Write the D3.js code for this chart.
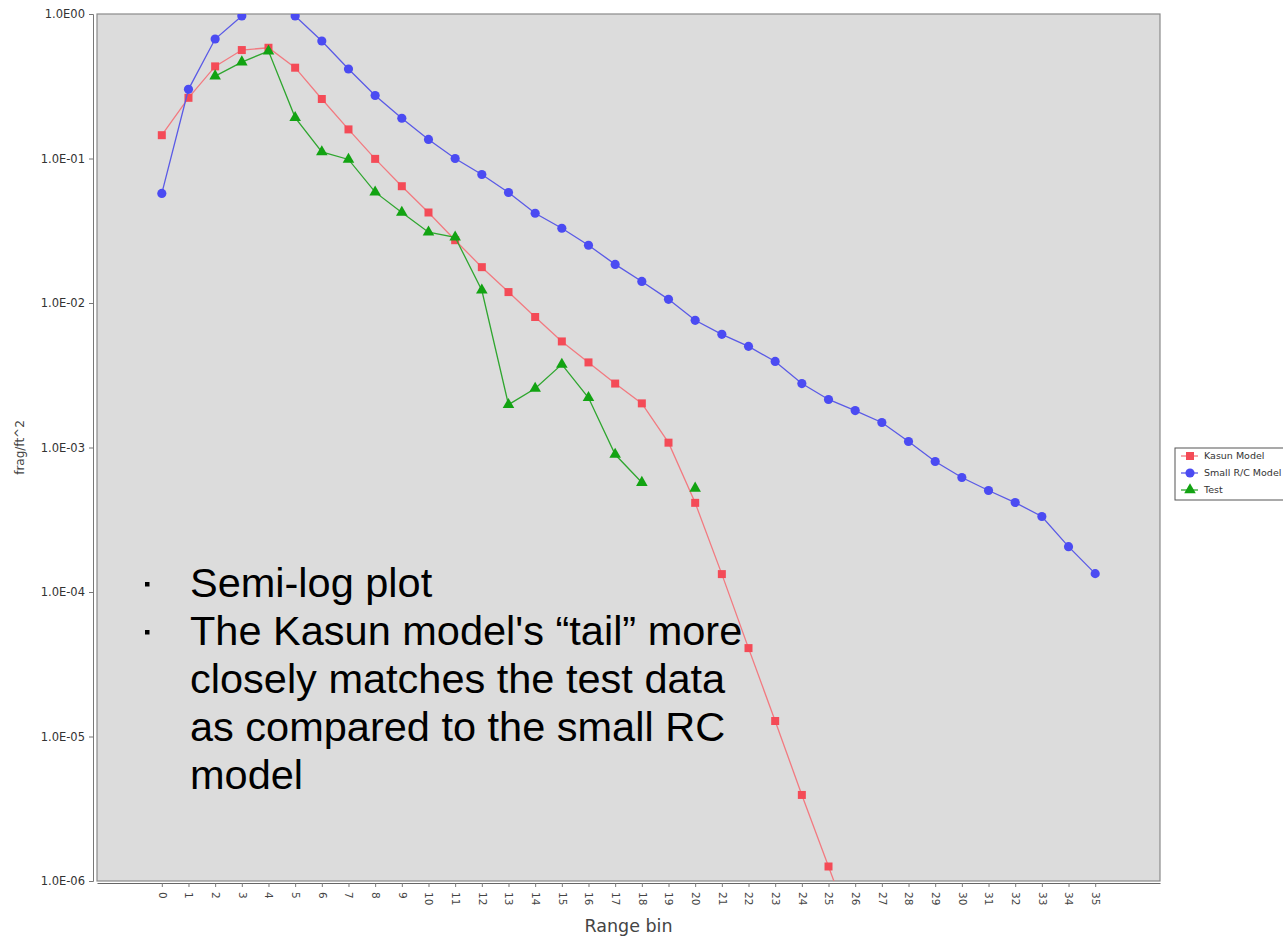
<!DOCTYPE html>
<html>
<head>
<meta charset="utf-8">
<script src="https://cdn.jsdelivr.net/npm/d3@7"></script>
<style>
	body { margin: 0; background: #fff; }
	svg { display: block; font-family: 'DejaVu Sans', sans-serif; }
</style>
</head>
<body>
<svg id="chart" width="1283" height="937"></svg>
<script>
// range bins 0..35
const bins = d3.range(0, 36)

// values (frag/ft^2), null = no point
const kasunModel = [0.145, 0.263, 0.434, 0.563, 0.584, 0.425, 0.258, 0.159, 0.0994, 0.0643,
	0.0423, 0.0272, 0.0177, 0.0119, 0.0080, 0.00542, 0.00388, 0.00277, 0.00202, 0.00108,
	0.000414, 0.000133, 4.09e-5, 1.28e-5, 3.94e-6, 1.26e-6, 4.0e-7]
const smallRCModel = [0.0573, 0.301, 0.671, 0.969, 1.35, 0.97, 0.650, 0.416, 0.273, 0.190,
	0.1355, 0.100, 0.0775, 0.0582, 0.0418, 0.0329, 0.0251, 0.0185, 0.0141, 0.0106,
	0.00759, 0.00607, 0.00501, 0.00394, 0.00277, 0.00215, 0.0018, 0.00149, 0.0011, 0.0008,
	0.00062, 0.000504, 0.000416, 0.000333, 0.000206, 0.000134]
const testData = [null, null, 0.372, 0.465, 0.554, 0.192, 0.111, 0.0985, 0.0585, 0.0423,
	0.0309, 0.0285, 0.01225, 0.00198, 0.00256, 0.00376, 0.00221, 0.000894, 0.000572, null,
	0.000522]

const yTicks = [1, 1e-1, 1e-2, 1e-3, 1e-4, 1e-5, 1e-6]
const yTickLabels = ['1.0E00', '1.0E-01', '1.0E-02', '1.0E-03', '1.0E-04', '1.0E-05', '1.0E-06']

const seriesNames = ['Kasun Model', 'Small R/C Model', 'Test']

const bullets = [
	['Semi-log plot'],
	['The Kasun model\'s \u201ctail\u201d more', 'closely matches the test data',
		'as compared to the small RC', 'model']
]

const series = [
	{ name: seriesNames[0], values: kasunModel, marker: 'square', fill: '#f44b57', line: '#f27a80' },
	{ name: seriesNames[1], values: smallRCModel, marker: 'circle', fill: '#4b4bf2', line: '#5a5ae6' },
	{ name: seriesNames[2], values: testData, marker: 'triangle', fill: '#12a312', line: '#2fa62f' }
]

const plot = { left: 97, right: 1160, top: 14, bottom: 881 }

const svg = d3.select('#chart')

const x = d3.scaleLinear()
	.domain([-2.43, 37.43])
	.range([plot.left, plot.right])

const y = d3.scaleLog()
	.domain([1, 1e-6])
	.range([plot.top, plot.bottom])

const symbolFor = (m) => {
	if (m === 'square') return d3.symbol().type(d3.symbolSquare).size(64)
	if (m === 'circle') return d3.symbol().type(d3.symbolCircle).size(66)
	return d3.symbol().type(d3.symbolTriangle).size(58)
}

svg.append('defs').append('clipPath')
	.attr('id', 'plot-clip')
	.append('rect')
	.attr('x', plot.left)
	.attr('y', plot.top)
	.attr('width', plot.right - plot.left)
	.attr('height', plot.bottom - plot.top)

// plot background
svg.append('rect')
	.attr('x', plot.left)
	.attr('y', plot.top)
	.attr('width', plot.right - plot.left)
	.attr('height', plot.bottom - plot.top)
	.attr('fill', '#dcdcdc')
	.attr('stroke', '#8a8a8a')
	.attr('stroke-width', 1.2)

// y axis
const yAxis = d3.axisLeft(y)
	.tickValues(yTicks)
	.tickFormat((d, i) => yTickLabels[i])
	.tickSize(4)
	.tickPadding(4)

svg.append('g')
	.attr('transform', `translate(${plot.left - 4},0)`)
	.call(yAxis)
	.call((g) => g.select('.domain').attr('stroke', '#777'))
	.call((g) => g.selectAll('.tick line').attr('stroke', '#777'))
	.call((g) => g.selectAll('.tick text')
		.attr('font-size', 11.5)
		.attr('font-family', 'DejaVu Sans, sans-serif')
		.attr('fill', '#333'))

// x axis
const xAxis = d3.axisBottom(x)
	.tickValues(bins)
	.tickFormat(d3.format('d'))
	.tickSize(4)
	.tickSizeOuter(0)

svg.append('g')
	.attr('transform', `translate(0,${plot.bottom + 2})`)
	.call(xAxis)
	.call((g) => g.select('.domain').attr('stroke', '#666'))
	.call((g) => g.selectAll('.tick line').attr('stroke', '#777'))
	.call((g) => g.selectAll('.tick text')
		.attr('font-size', 10.5)
		.attr('font-family', 'DejaVu Sans, sans-serif')
		.attr('fill', '#444')
		.attr('text-anchor', 'start')
		.attr('transform', 'translate(0,9) rotate(90)')
		.attr('x', 0)
		.attr('y', 0)
		.attr('dy', '0.35em'))

// axis titles
svg.append('text')
	.attr('x', (plot.left + plot.right) / 2)
	.attr('y', 932)
	.attr('text-anchor', 'middle')
	.attr('font-size', 17.5)
	.attr('fill', '#444')
	.text('Range bin')

svg.append('text')
	.attr('transform', `translate(24,${(plot.top + plot.bottom) / 2}) rotate(-90)`)
	.attr('text-anchor', 'middle')
	.attr('font-size', 12)
	.attr('fill', '#444')
	.text('frag/ft^2')

// series lines and markers
const clipped = svg.append('g').attr('clip-path', 'url(#plot-clip)')

const line = d3.line()
	.defined((d) => d != null)
	.x((d, i) => x(i))
	.y((d) => y(d))

series.forEach((s) => {
	clipped.append('path')
		.datum(s.values)
		.attr('fill', 'none')
		.attr('stroke', s.line)
		.attr('stroke-width', 1.3)
		.attr('d', line)

	clipped.selectAll(null)
		.data(s.values.map((v, i) => ({ v, i })).filter((d) => d.v != null))
		.enter().append('path')
		.attr('d', symbolFor(s.marker))
		.attr('transform', (d) => `translate(${x(d.i)},${y(d.v)})`)
		.attr('fill', s.fill)
})

// annotation text
let lineNo = 0
bullets.forEach((group) => {
	group.forEach((t, j) => {
		const by = 597 + lineNo * 48
		if (j === 0) {
			svg.append('rect')
				.attr('x', 145)
				.attr('y', by - 15)
				.attr('width', 4.5)
				.attr('height', 4.5)
				.attr('fill', '#000')
		}
		svg.append('text')
			.attr('x', 190)
			.attr('y', by)
			.style('font-family', '"Liberation Sans", Arial, sans-serif')
			.style('font-size', '41.5px')
			.attr('fill', '#000')
			.text(t)
		lineNo++
	})
})

// legend (cut off by the right edge, as in the picture)
const legend = svg.append('g').attr('transform', 'translate(1175,448)')

legend.append('rect')
	.attr('x', 0)
	.attr('y', 0)
	.attr('width', 140)
	.attr('height', 52)
	.attr('fill', '#fff')
	.attr('stroke', '#555')
	.attr('stroke-width', 1)

series.forEach((s, i) => {
	const ly = 8 + i * 17
	legend.append('line')
		.attr('x1', 6)
		.attr('x2', 23)
		.attr('y1', ly)
		.attr('y2', ly)
		.attr('stroke', s.line)
		.attr('stroke-width', 1.3)
	legend.append('path')
		.attr('d', symbolFor(s.marker))
		.attr('transform', `translate(15,${ly})`)
		.attr('fill', s.fill)
	legend.append('text')
		.attr('x', 29)
		.attr('y', ly)
		.attr('dy', '0.35em')
		.attr('font-size', 9.5)
		.attr('fill', '#333')
		.text(s.name)
})
</script>
</body>
</html>
